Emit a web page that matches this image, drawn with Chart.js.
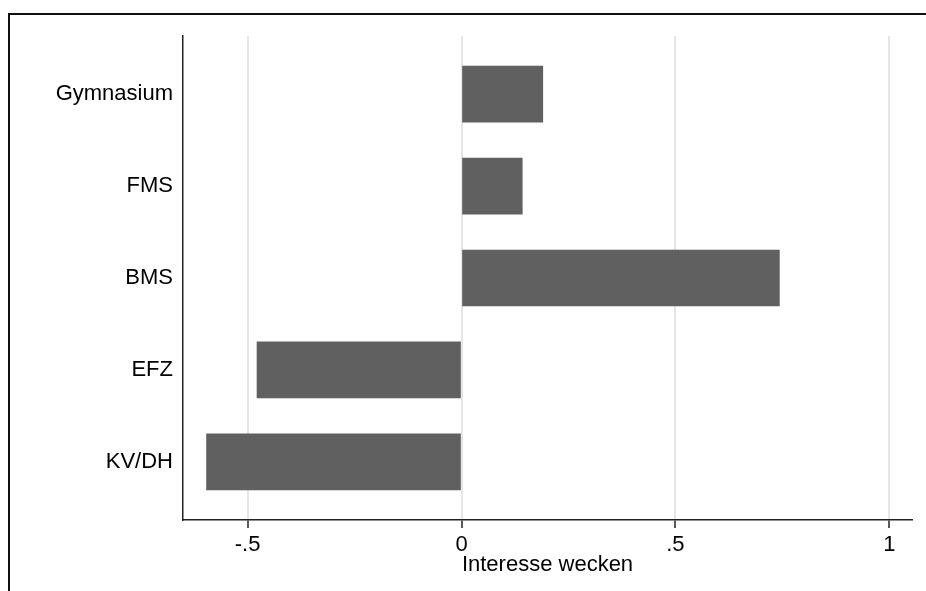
<!DOCTYPE html>
<html>
<head>
<meta charset="utf-8">
<script src="https://cdn.jsdelivr.net/npm/chart.js@4/dist/chart.umd.min.js"></script>
<style>
	html, body { margin: 0; padding: 0; background: #fff; overflow: hidden; }
	#frame {
		position: absolute; left: 8px; top: 13px; width: 1000px; height: 700px;
		border-left: 2px solid #111; border-top: 2px solid #111;
	}
	#wrap { position: absolute; left: 0; top: 0; width: 926px; height: 591px; }
</style>
</head>
<body>
<div id="frame"></div>
<div id="wrap"><canvas id="Bar_Plot" width="926" height="591"></canvas></div>
<script>
// Categories top to bottom
const categories = ["Gymnasium", "FMS", "BMS", "EFZ", "KV/DH"];
// Effect on "Interesse wecken"
const effects = [0.190, 0.142, 0.743, -0.478, -0.596];
// x-axis ticks
const x_tick_values = [-0.5, 0, 0.5, 1];
const x_tick_labels = ["-.5", "0", ".5", "1"];

const X_MIN = -0.651;
const X_MAX = 1.053;

Chart.defaults.font.family = "'Liberation Sans', Arial, sans-serif";
Chart.defaults.font.size = 22;
Chart.defaults.color = "#000";

const bar_plot = document.getElementById("Bar_Plot").getContext("2d");

var Bar_Plot_Obj = new Chart(bar_plot, {
	type: "bar",
	data: {
		datasets: [
			{
				data: effects.map((v, i) => ({ x: v, y: i + 1 })),
				backgroundColor: "#606060",
				borderWidth: 0,
				barThickness: 56,
			}
		]
	},
	options: {
		indexAxis: 'y',
		responsive: false,
		animation: false,
		layout: {
			padding: { left: 0, top: 36, right: 14, bottom: 0 }
		},
		plugins: {
			legend: { display: false },
			tooltip: { enabled: false },
		},
		scales: {
			x: {
				type: 'linear',
				min: X_MIN,
				max: X_MAX,
				afterBuildTicks: function(scale) {
					scale.ticks = x_tick_values.map(v => ({ value: v }));
				},
				afterFit: function(scale) {
					scale.height = 71;
				},
				ticks: {
					padding: 4,
					maxRotation: 0,
					callback: function(value) {
						const i = x_tick_values.indexOf(value);
						return i >= 0 ? x_tick_labels[i] : '';
					}
				},
				grid: {
					color: '#e6e6e6',
					lineWidth: 2,
					tickColor: '#222',
					tickLength: 8,
					tickWidth: 1.5,
				},
				border: { display: true, color: '#222', width: 1.5 },
				title: {
					display: true,
					text: 'Interesse wecken',
					padding: { top: 0, bottom: 13 },
				}
			},
			y: {
				type: 'linear',
				reverse: true,
				offset: false,
				min: 0.368,
				max: 5.632,
				afterBuildTicks: function(scale) {
					scale.ticks = categories.map((c, i) => ({ value: i + 1 }));
				},
				afterFit: function(scale) {
					scale.width = 183;
				},
				ticks: {
					padding: 10,
					callback: function(value) {
						return categories[value - 1] || '';
					}
				},
				grid: { display: false, drawTicks: false, offset: false },
				border: { display: true, color: '#222', width: 1.5 },
			}
		},
		events: [],
	}
});
</script>
</body>
</html>
